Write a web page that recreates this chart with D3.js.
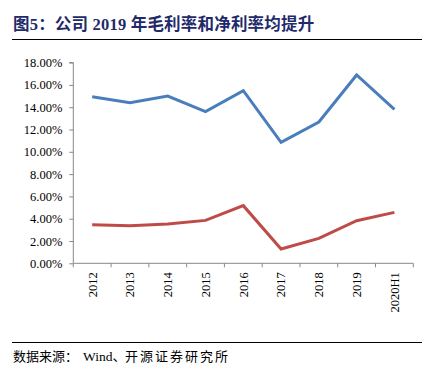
<!DOCTYPE html>
<html><head><meta charset="utf-8">
<script src="https://cdn.jsdelivr.net/npm/d3@7"></script>
<style>body{margin:0;background:#fff} text{white-space:pre}</style>
</head><body>
<script>
const categories = ["2012","2013","2014","2015","2016","2017","2018","2019","2020H1"];
const grossMargin = [14.94,14.40,15.00,13.60,15.48,10.85,12.67,16.89,13.81];
const netMargin = [3.46,3.37,3.52,3.85,5.17,1.28,2.24,3.82,4.57];
const yTicks = [0,2,4,6,8,10,12,14,16,18];

const W=438,H=378;
const svg=d3.select("body").append("svg").attr("width",W).attr("height",H);
const serif='"Times New Roman","Liberation Serif","Noto Sans CJK SC",serif';

svg.append("text").attr("x",13).attr("y",30).attr("fill","#1f2a6b")
  .attr("font-family",serif).attr("font-weight","bold").attr("font-size",16.5).attr("letter-spacing",0.2)
  .text("图5：公司 2019 年毛利率和净利率均提升");
svg.append("line").attr("x1",12).attr("x2",422).attr("y1",39.5).attr("y2",39.5).attr("stroke","#000").attr("stroke-width",1);

const x=d3.scaleBand().domain(categories).range([73.3,413.3]);
const y=d3.scaleLinear().domain([0,18]).range([263.3,62.6]);

const gy=svg.append("g").attr("transform","translate(73.3,0)")
  .call(d3.axisLeft(y).tickValues(yTicks).tickSize(4).tickPadding(7).tickFormat(d=>d.toFixed(2)+"%"));
const gx=svg.append("g").attr("transform","translate(0,263.3)")
  .call(d3.axisBottom(x).tickSize(4).tickSizeOuter(4).tickPadding(8));
gx.selectAll(".tick line").remove();
categories.concat(["__end"]).forEach((c,i)=>{
  const xx = i<categories.length ? x(c) : x.range()[1];
  gx.append("line").attr("x1",xx).attr("x2",xx).attr("y1",0).attr("y2",4).attr("stroke","#888");
});
[gx,gy].forEach(g=>{
  g.selectAll("path,line").attr("stroke","#888");
  g.selectAll("text").attr("font-family",serif).attr("font-size",12.5).attr("fill","#000");
});
gy.select(".domain").attr("d","M-4,62.6H0V263.3");
gx.select(".domain").attr("d","M73.3,0H413.3");
gx.selectAll(".tick text").attr("transform","rotate(-90)").attr("text-anchor","end")
  .attr("x",-9).attr("y",0).attr("dx",0).attr("dy","0.35em");

const line=d3.line().x((d,i)=>x(categories[i])+x.bandwidth()/2).y(d=>y(d));
svg.append("path").datum(grossMargin).attr("d",line).attr("fill","none").attr("stroke","#4a7ebb").attr("stroke-width",3).attr("stroke-linejoin","miter");
svg.append("path").datum(netMargin).attr("d",line).attr("fill","none").attr("stroke","#be4b48").attr("stroke-width",3).attr("stroke-linejoin","miter");

svg.append("line").attr("x1",12).attr("x2",422).attr("y1",342.5).attr("y2",342.5).attr("stroke","#000").attr("stroke-width",1);
const src=svg.append("text").attr("y",361).attr("font-family",serif).attr("font-size",13).attr("fill","#000");
src.append("tspan").attr("x",13).text("数据来源：");
src.append("tspan").attr("x",83).attr("font-size",13.5).text("Wind、");
src.append("tspan").attr("x",125).attr("letter-spacing",2).text("开源证券研究所");
</script>
</body></html>
